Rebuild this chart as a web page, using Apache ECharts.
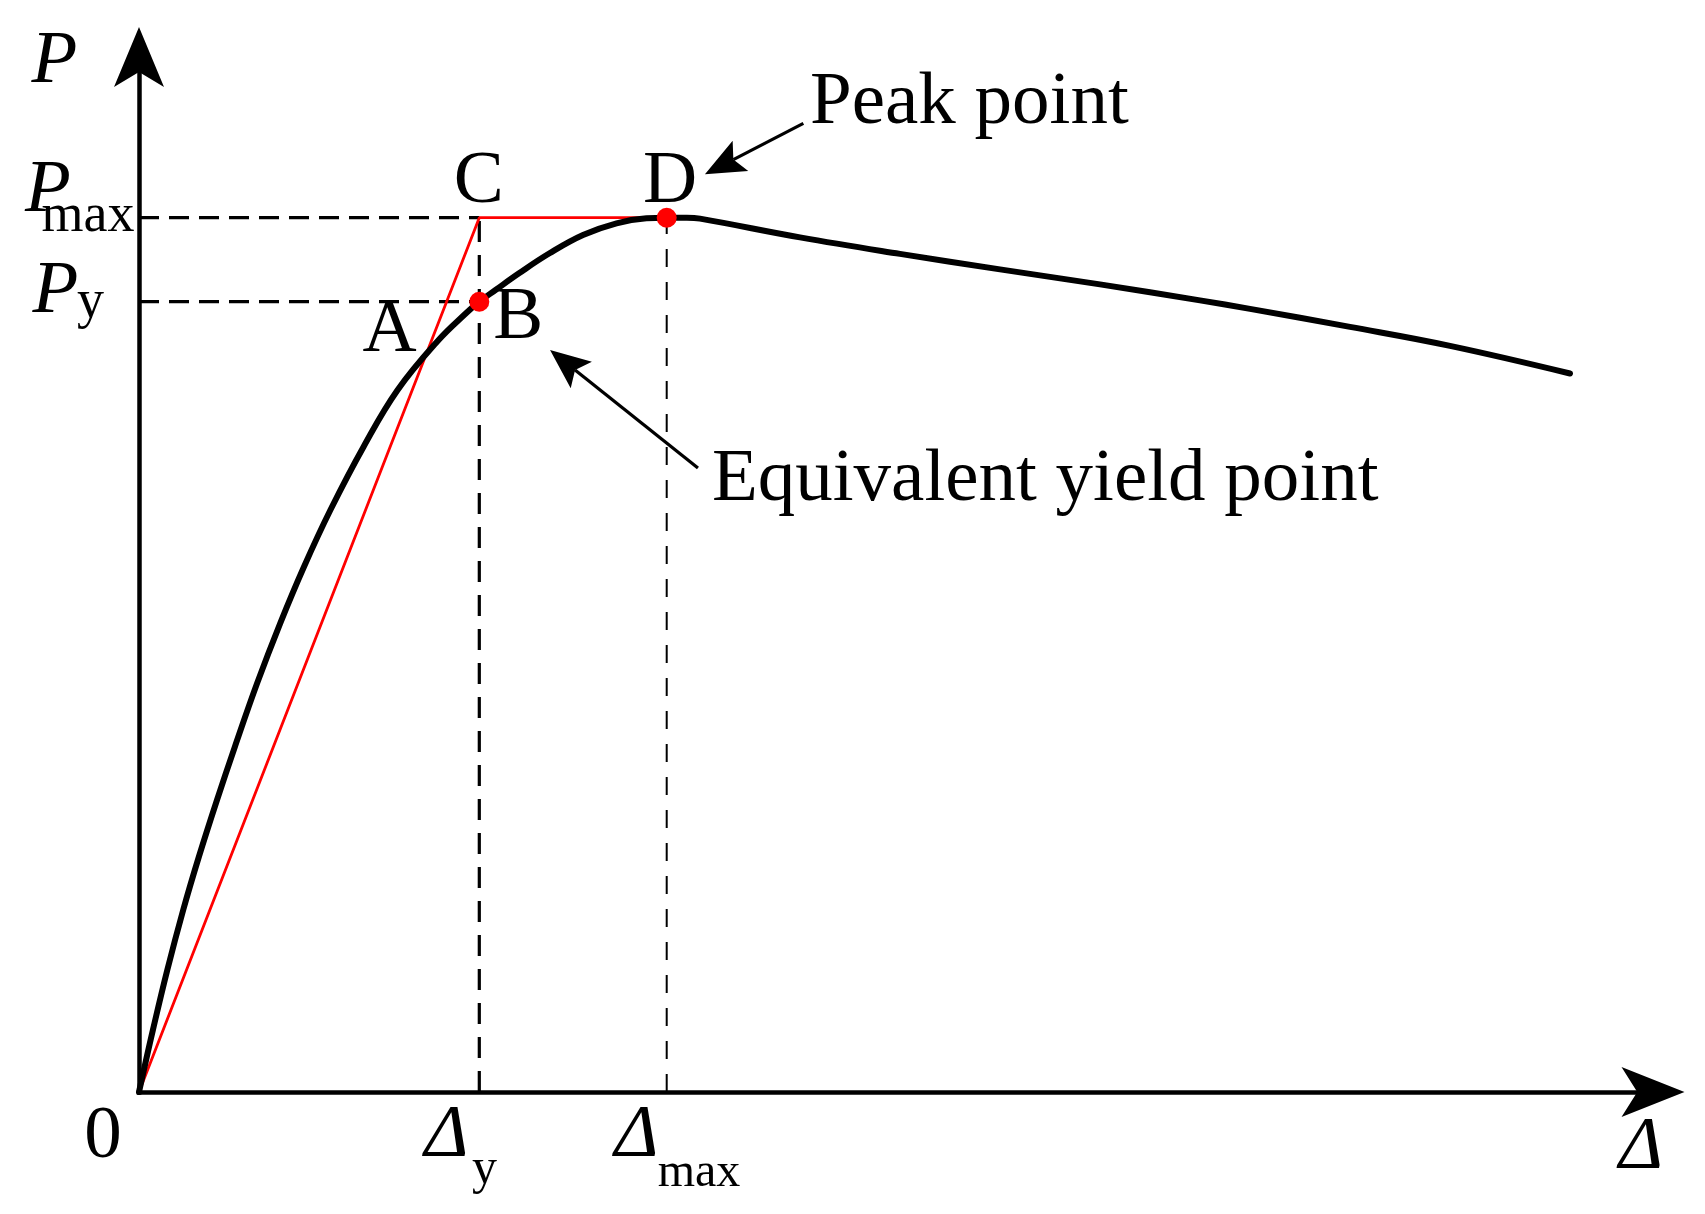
<!DOCTYPE html>
<html>
<head>
<meta charset="utf-8">
<script src="https://cdn.jsdelivr.net/npm/echarts@6/dist/echarts.min.js"></script>
<style>html,body{margin:0;padding:0;background:#fff}#chart{width:1705px;height:1214px}</style>
</head>
<body>
<div id="chart"></div>
<script>
// ---- data (displacement Δ in % of axis length, load P in % of axis height)
const curveDelta = [0, 0.218, 0.918, 1.869, 2.919, 3.950, 5.152, 6.334, 7.801, 9.326, 10.898, 12.642, 14.835, 17.081, 19.789, 21.598, 22.477, 23.547, 25.099, 27.114, 29.326, 31.539, 33.520, 34.855, 36.176, 37.054, 43.659, 50.264, 56.869, 63.474, 70.079, 73.382, 79.987, 86.592, 94.518];
const curveLoad  = [0, 1.449, 5.990, 11.787, 17.585, 22.705, 28.213, 33.362, 39.488, 45.285, 50.754, 56.232, 62.348, 67.826, 72.657, 75.237, 76.357, 77.488, 79.101, 81.034, 82.802, 83.932, 84.415, 84.473, 84.470, 84.380, 82.570, 80.976, 79.478, 78.029, 76.483, 75.662, 73.923, 72.087, 69.420];
const DELTA_Y = 22.477, DELTA_MAX = 34.855, P_Y = 76.357, P_MAX = 84.473;
const POINT_A = [18.86, 70.92];
const bilinearDelta = [0, DELTA_Y, DELTA_MAX];
const bilinearLoad  = [0, P_MAX, P_MAX];
const AXIS_MAX_X = 100, AXIS_MAX_Y = 100;
const peakArrow  = [43.88, 93.59, 37.38, 88.67];   // tail x,y -> tip x,y
const yieldArrow = [36.92, 60.29, 27.15, 71.69];
const tickTexts = { origin: '0', pAxis: 'P', dAxis: 'Δ', main: 'P', sMax: 'max', sY: 'y', delta: 'Δ' };
const pointNames = ['A', 'B', 'C', 'D'];
const noteTexts = ['Peak point', 'Equivalent yield point'];

// ---- build
const FONT = 'Liberation Serif';
const zip = (a, b) => a.map((v, i) => [v, b[i]]);
function lbl(text, at, off, size, italic, align) {
  return {
    value: at,
    label: {
      show: true, position: 'inside', formatter: text, offset: off,
      fontFamily: FONT, fontSize: size, fontStyle: italic ? 'italic' : 'normal',
      color: '#000', opacity: 1,
      align: align || 'center', verticalAlign: 'middle'
    }
  };
}
const B = [DELTA_Y, P_Y], C = [DELTA_Y, P_MAX], D = [DELTA_MAX, P_MAX];
const labels = [
  lbl(tickTexts.pAxis, [0, AXIS_MAX_Y], [-84.5, 5.5], 75, true),
  lbl(tickTexts.main, [0, P_MAX], [-91, -26.7], 75, true),
  lbl(tickTexts.sMax, [0, P_MAX], [-51, -1], 54, false),
  lbl(tickTexts.main, [0, P_Y], [-83.5, -9.2], 75, true),
  lbl(tickTexts.sY, [0, P_Y], [-48.5, 1], 54, false),
  lbl(tickTexts.origin, [0, 0], [-36, 45.5], 75, false),
  lbl(tickTexts.delta, [DELTA_Y, 0], [-32.8, 44], 75, true),
  lbl(tickTexts.sY, [DELTA_Y, 0], [5.2, 78], 50, false),
  lbl(tickTexts.delta, [DELTA_MAX, 0], [-30.2, 44], 75, true),
  lbl(tickTexts.sMax, [DELTA_MAX, 0], [32.3, 81.7], 48, false),
  lbl(tickTexts.dAxis, [AXIS_MAX_X, 0], [-12, 56.5], 75, true),
  lbl(pointNames[0], POINT_A, [-35, -27], 75, false),
  lbl(pointNames[1], B, [39, 16.7], 75, false),
  lbl(pointNames[2], C, [-0.5, -35], 75, false),
  lbl(pointNames[3], D, [3.3, -35], 75, false),
  lbl(noteTexts[0], [peakArrow[0], peakArrow[1]], [6.7, -20.3], 75, false, 'left'),
  lbl(noteTexts[1], [yieldArrow[0], yieldArrow[1]], [14, 12.5], 75, false, 'left')
];

function dashed(data, width, dash) {
  return {
    type: 'line', data: data, symbol: 'none', silent: true, z: 2,
    lineStyle: { color: '#000', width: width, type: dash }
  };
}

const axisCommon = (size, off) => ({
  type: 'value', min: 0,
  axisLine: { show: true, onZero: false, symbol: ['none', 'arrow'], symbolSize: size, symbolOffset: [0, off],
              lineStyle: { color: '#000', width: 4.5, cap: 'square' } },
  axisTick: { show: false }, axisLabel: { show: false }, splitLine: { show: false }
});

const chart = echarts.init(document.getElementById('chart'), null, { renderer: 'canvas' });
chart.setOption({
  animation: false,
  backgroundColor: '#ffffff',
  grid: { left: 139, right: 52, top: 57, bottom: 122, outerBoundsMode: 'none' },
  xAxis: Object.assign(axisCommon([37.5, 63], 31.5), { max: AXIS_MAX_X }),
  yAxis: Object.assign(axisCommon([37.5, 60], 30), { max: AXIS_MAX_Y }),
  series: [
    dashed([[0, P_MAX], C], 3.2, [20, 10]),
    dashed([[0, P_Y], B], 3.2, [20, 10]),
    dashed([[DELTA_Y, 0], C], 3.2, [21, 13]),
    dashed([[DELTA_MAX, 0], D], 2, [18, 15]),
    {
      type: 'line', data: zip(bilinearDelta, bilinearLoad), symbol: 'none', silent: true, z: 3,
      lineStyle: { color: '#ff0000', width: 2.8 }
    },
    {
      type: 'line', data: zip(curveDelta, curveLoad), symbol: 'none', silent: true, z: 4,
      smooth: 0.4, lineStyle: { color: '#000', width: 6, join: 'round', cap: 'round' }
    },
    {
      type: 'scatter', data: [B, D], symbol: 'circle', symbolSize: 20, silent: true, z: 5,
      itemStyle: { color: '#ff0000', opacity: 1 }
    },
    {
      type: 'custom', data: [peakArrow, yieldArrow], silent: true, z: 6,
      encode: { x: [0, 2], y: [1, 3] },
      renderItem: function (params, api) {
        const p1 = api.coord([api.value(0), api.value(1)]);
        const p2 = api.coord([api.value(2), api.value(3)]);
        const dx = p2[0] - p1[0], dy = p2[1] - p1[1], L = Math.hypot(dx, dy);
        const ux = dx / L, uy = dy / L, nx = -uy, ny = ux;
        const hl = 40, hw = 17, nd = 8;
        const bx = p2[0] - ux * hl, by = p2[1] - uy * hl;
        const mx = p2[0] - ux * (hl - nd), my = p2[1] - uy * (hl - nd);
        return {
          type: 'group',
          children: [
            { type: 'line', shape: { x1: p1[0], y1: p1[1], x2: mx, y2: my }, style: { stroke: '#000', lineWidth: 3.2 } },
            { type: 'polygon', shape: { points: [[p2[0], p2[1]], [bx + nx * hw, by + ny * hw], [mx, my], [bx - nx * hw, by - ny * hw]] },
              style: { fill: '#000' } }
          ]
        };
      }
    },
    {
      type: 'scatter', data: labels, symbolSize: 1, silent: true, z: 10,
      itemStyle: { color: 'rgba(0,0,0,0)', opacity: 1 }
    }
  ]
});
</script>
</body>
</html>
